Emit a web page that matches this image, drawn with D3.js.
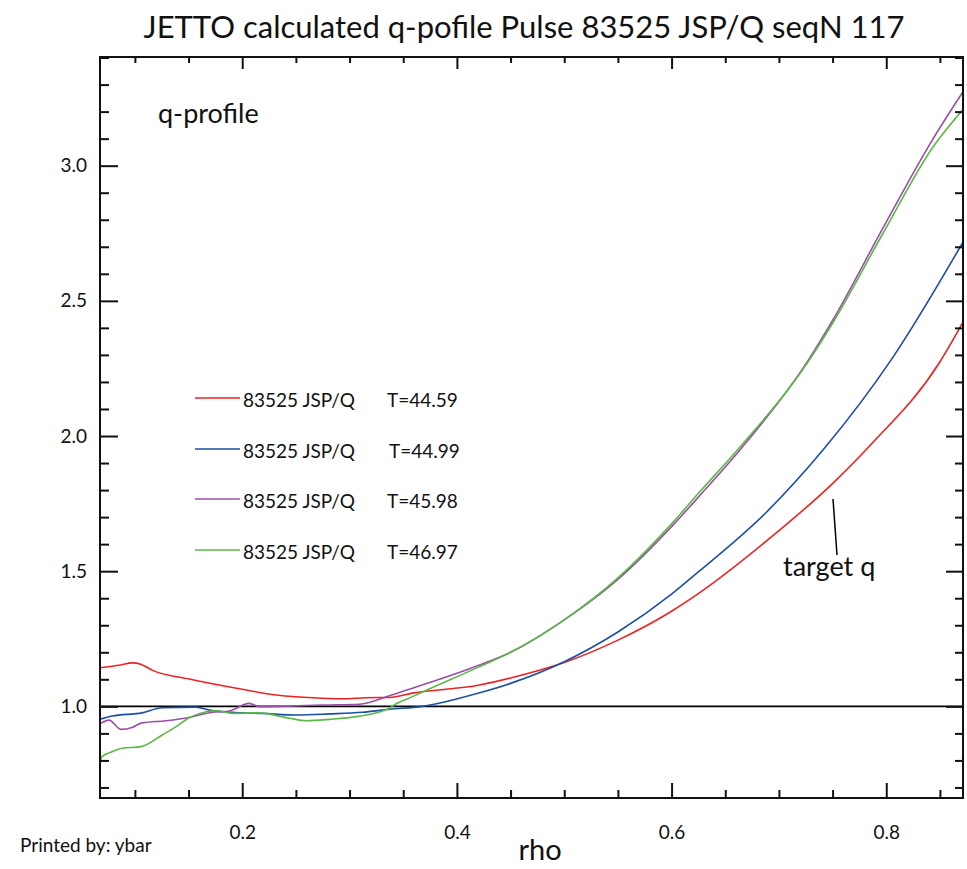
<!DOCTYPE html>
<html lang="en">
  <head>
    <meta charset="utf-8">
    <title>JETTO q-profile</title>
    <script type="text/javascript" src="https://cdn.jsdelivr.net/npm/d3@7"></script>
<style>
body { margin: 0; background: #fff; }
text { font-family: Lato, "Open Sans", sans-serif; fill: #111; }
</style>
  </head>
  <body>
    <script type="text/javascript">
      // q-profile data (rho, q)
      var rhoRed = [0.0675, 0.0868, 0.0974, 0.1055, 0.116, 0.1506, 0.200, 0.2317, 0.2746, 0.2933, 0.3157, 0.3371, 0.3586, 0.4211, 0.45, 0.5, 0.55, 0.6, 0.6252, 0.6888, 0.7504, 0.7849, 0.8493, 0.8726];
      var qRed   = [1.143, 1.153, 1.161, 1.156, 1.134, 1.101, 1.063, 1.042, 1.030, 1.028, 1.032, 1.033, 1.049, 1.079, 1.105, 1.162, 1.245, 1.352, 1.418, 1.613, 1.826, 1.965, 2.27, 2.429];

      var rhoBlue = [0.0675, 0.0787, 0.1067, 0.1254, 0.1571, 0.1692, 0.1907, 0.2187, 0.2504, 0.2812, 0.3119, 0.3371, 0.3679, 0.4211, 0.45, 0.5, 0.55, 0.6, 0.6252, 0.6888, 0.741, 0.8063, 0.8726];
      var qBlue   = [0.952, 0.964, 0.976, 0.995, 0.997, 0.986, 0.978, 0.974, 0.968, 0.972, 0.978, 0.989, 1.0, 1.05, 1.085, 1.165, 1.275, 1.415, 1.498, 1.72, 1.948, 2.292, 2.725];

      var rhoPurple = [0.0675, 0.0759, 0.0871, 0.0974, 0.1067, 0.1291, 0.1506, 0.172, 0.1879, 0.2065, 0.2159, 0.2438, 0.2746, 0.3091, 0.3371, 0.3586, 0.4211, 0.45, 0.5, 0.55, 0.6, 0.6252, 0.664, 0.7289, 0.7504, 0.797, 0.8437, 0.8726];
      var qPurple   = [0.935, 0.949, 0.915, 0.922, 0.939, 0.947, 0.959, 0.978, 0.983, 1.011, 0.999, 1.001, 1.005, 1.008, 1.039, 1.067, 1.153, 1.20, 1.32, 1.47, 1.665, 1.775, 1.95, 2.29, 2.43, 2.77, 3.10, 3.28];

      var rhoGreen = [0.0675, 0.0694, 0.0787, 0.0880, 0.1058, 0.1254, 0.1384, 0.1506, 0.1664, 0.1758, 0.1907, 0.2159, 0.2438, 0.2597, 0.2812, 0.3063, 0.3371, 0.3395, 0.3586, 0.4211, 0.45, 0.5, 0.55, 0.6, 0.6252, 0.664, 0.7289, 0.7504, 0.797, 0.8437, 0.8726];
      var qGreen   = [0.789, 0.814, 0.832, 0.845, 0.851, 0.894, 0.925, 0.958, 0.980, 0.984, 0.974, 0.976, 0.956, 0.947, 0.952, 0.962, 0.993, 1.0, 1.036, 1.147, 1.20, 1.32, 1.475, 1.675, 1.789, 1.96, 2.285, 2.42, 2.75, 3.07, 3.213];

      var seriesTimes = ["T=44.59", "T=44.99", "T=45.98", "T=46.97"];
      var seriesColors = ["#ee2222", "#1d4fa6", "#9a4ea6", "#5ab946"];
      var xTickValues = [0.2, 0.4, 0.6, 0.8];
      var yTickValues = [1.0, 1.5, 2.0, 2.5, 3.0];

      var width = 967, height = 869;
      var margin = {left: 100, top: 57, right: 4, bottom: 71};
      var plotW = width - margin.left - margin.right;
      var plotH = height - margin.top - margin.bottom;

      var svg = d3.select("body").append("svg")
        .attr("width", width)
        .attr("height", height);

      var x = d3.scaleLinear().domain([0.0675, 0.8715]).range([margin.left, margin.left + plotW]);
      var y = d3.scaleLinear().domain([0.661, 3.402]).range([margin.top + plotH, margin.top]);

      var series = [
        {rho: rhoRed, q: qRed},
        {rho: rhoBlue, q: qBlue},
        {rho: rhoPurple, q: qPurple},
        {rho: rhoGreen, q: qGreen}
      ];

      // clip curves to the frame
      svg.append("clipPath").attr("id", "clip")
        .append("rect")
        .attr("x", margin.left).attr("y", margin.top)
        .attr("width", plotW).attr("height", plotH);

      // reference line q = 1
      svg.append("line")
        .attr("x1", margin.left).attr("x2", margin.left + plotW)
        .attr("y1", y(1.0)).attr("y2", y(1.0))
        .attr("stroke", "#000").attr("stroke-width", 1.6);

      var line = d3.line()
        .x(function(d) { return x(d[0]); })
        .y(function(d) { return y(d[1]); })
        .curve(d3.curveMonotoneX);

      svg.append("g").attr("clip-path", "url(#clip)")
        .selectAll("path")
        .data(series)
        .enter()
        .append("path")
        .attr("fill", "none")
        .attr("stroke", function(d, i) { return seriesColors[i]; })
        .attr("stroke-width", 1.6)
        .attr("d", function(d) {
          return line(d.rho.map(function(r, k) { return [r, d.q[k]]; }));
        });

      // axes: all four sides with inward ticks
      var xMinor = d3.range(0.1, 0.871, 0.05).filter(function(v) {
        return xTickValues.every(function(t) { return Math.abs(t - v) > 1e-6; });
      });
      var yMinor = d3.range(0.7, 3.41, 0.1).filter(function(v) {
        return yTickValues.every(function(t) { return Math.abs(t - v) > 1e-6; });
      });

      function addAxis(axisFn, scale, values, size, transform, showLabels) {
        var g = svg.append("g")
          .attr("transform", transform)
          .call(axisFn(scale).tickValues(values).tickSize(size).tickPadding(12)
            .tickFormat(showLabels ? d3.format(".1f") : ""));
        g.select(".domain").remove();
        g.selectAll(".tick line").attr("stroke", "#111").attr("stroke-width", 2);
        g.selectAll("text").attr("font-size", 19).attr("fill", "#111");
        return g;
      }

      // bottom
      addAxis(d3.axisBottom, x, xTickValues, -15, "translate(0," + (margin.top + plotH) + ")", true)
        .selectAll("text").attr("dy", "1.5em");
      addAxis(d3.axisBottom, x, xMinor, -8, "translate(0," + (margin.top + plotH) + ")", false);
      // top
      addAxis(d3.axisTop, x, xTickValues, -12, "translate(0," + margin.top + ")", false);
      addAxis(d3.axisTop, x, xMinor, -6, "translate(0," + margin.top + ")", false);
      // left
      addAxis(d3.axisLeft, y, yTickValues, -18, "translate(" + margin.left + ",0)", true)
        .selectAll("text").attr("dx", "-1px");
      addAxis(d3.axisLeft, y, yMinor, -9, "translate(" + margin.left + ",0)", false);
      // right
      addAxis(d3.axisRight, y, yTickValues, -17, "translate(" + (margin.left + plotW) + ",0)", false);
      addAxis(d3.axisRight, y, yMinor, -8, "translate(" + (margin.left + plotW) + ",0)", false);

      // frame
      svg.append("rect")
        .attr("x", margin.left).attr("y", margin.top)
        .attr("width", plotW).attr("height", plotH)
        .attr("fill", "none").attr("stroke", "#111").attr("stroke-width", 2);

      // legend
      var legendY = [398, 449, 499, 550];
      var legend = svg.append("g").selectAll("g")
        .data(seriesTimes)
        .enter()
        .append("g")
        .attr("transform", function(d, i) { return "translate(195," + legendY[i] + ")"; });
      legend.append("line")
        .attr("x1", 0).attr("x2", 45)
        .attr("stroke", function(d, i) { return seriesColors[i]; })
        .attr("stroke-width", 1.3);
      legend.append("text")
        .attr("x", 48).attr("y", 9)
        .attr("font-size", 19)
        .text("83525 JSP/Q");
      legend.append("text")
        .attr("x", function(d, i) { return i === 1 ? 194 : 192; })
        .attr("y", 9)
        .attr("font-size", 19)
        .text(function(d) { return d; });

      // titles and notes
      svg.append("text")
        .attr("x", 524).attr("y", 38)
        .attr("text-anchor", "middle")
        .attr("font-size", 31)
        .text("JETTO calculated q-pofile Pulse 83525 JSP/Q seqN 117");
      svg.append("text")
        .attr("x", 158).attr("y", 123)
        .attr("font-size", 27)
        .text("q-profile");
      svg.append("text")
        .attr("x", 540).attr("y", 860)
        .attr("text-anchor", "middle")
        .attr("font-size", 29)
        .text("rho");
      svg.append("text")
        .attr("x", 20).attr("y", 852)
        .attr("font-size", 19)
        .text("Printed by: ybar");

      // target q annotation
      svg.append("line")
        .attr("x1", 833).attr("y1", 499)
        .attr("x2", 837).attr("y2", 555)
        .attr("stroke", "#000").attr("stroke-width", 1.5);
      svg.append("text")
        .attr("x", 783).attr("y", 576)
        .attr("font-size", 27)
        .text("target q");
    </script>
  </body>
</html>
